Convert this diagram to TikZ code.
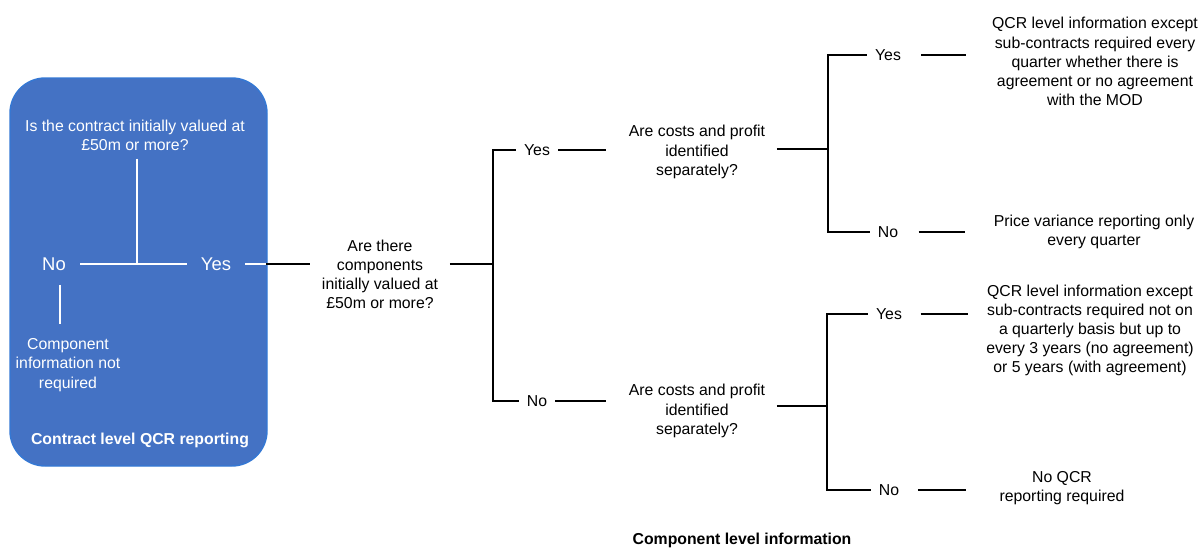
\documentclass[tikz,border=0pt]{standalone}
\usepackage{fontspec}
\setmainfont{Liberation Sans}
\usetikzlibrary{positioning}
\definecolor{qcrblue}{RGB}{68,114,196}
\definecolor{qcredge}{RGB}{52,120,212}

\begin{document}
\begin{tikzpicture}[x=0.02cm, y=-0.02cm,
  every node/.style={font=\fontsize{9}{10.9}\selectfont, align=center},
  ask/.style={inner xsep=6.5pt, inner ysep=0pt},
  ans/.style={inner xsep=4.5pt, inner ysep=0pt},
  res/.style={inner sep=0pt},
  wtext/.style={text=white, inner sep=0pt},
  wans/.style={text=white, font=\fontsize{10.5}{12}\selectfont, inner sep=8pt},
  link/.style={line width=1.1pt},
  wlink/.style={link, white}]
  \useasboundingbox (0,0) rectangle (1201,548);
  % contract level panel
  \draw[fill=qcrblue, draw=qcredge, line width=0.8pt, rounded corners=20pt] (10,78) rectangle (267,466);
  \node[wtext, inner ysep=4.5pt] (q1) at (135,135) {Is the contract initially valued at\\£50m or more?};
  \node[wans] (no1) at (54,264) {No};
  \node[wans] (yes1) at (216,264) {Yes};
  \node[wtext] (comp) at (68,365) {Component\\information not\\required};
  \node[wtext, font=\fontsize{9}{10.9}\selectfont\bfseries] (ctitle) at (140,440) {Contract level QCR reporting};
  \coordinate (j1) at (137,264);
  \coordinate (edge) at (266,264);
  \draw[wlink] (no1) -- (yes1);
  \draw[wlink] (q1.south -| j1) -- (j1);
  \draw[wlink, shorten >=8pt] ([xshift=3.4pt]no1.south) -- ([xshift=3.4pt]no1.south |- comp.north);
  \draw[wlink] (yes1) -- (edge);
  % component level
  \node[ask] (q2) at (380,274.5) {Are there\\components\\initially valued at\\£50m or more?};
  \draw[link] (edge) -- (edge -| q2.west);
  \coordinate (j2) at (493,264);
  \draw[link] (q2.east |- edge) -- (j2);
  \node[ans] (yes2) at (537,150) {Yes};
  \node[ans] (no2) at (537,401) {No};
  \draw[link] (yes2) -| (j2) |- (no2);
  % upper branch
  \node[ask] (q3) at (697,152) {Are costs and profit\\identified\\separately?};
  \draw[link, shorten >=6.5pt] (yes2) -- (yes2 -| q3.west);
  \coordinate (j3) at (828,149);
  \draw[link] (q3.east |- j3) -- (j3);
  \node[ans] (yes3) at (888,55) {Yes};
  \node[ans] (no3) at (888,232) {No};
  \draw[link] (yes3) -| (j3) |- (no3);
  \node[res] (out1) at (1095,61.5) {QCR level information except\\sub-contracts required every\\quarter whether there is\\agreement or no agreement\\with the MOD};
  \node[res] (out2) at (1094,231.5) {Price variance reporting only\\every quarter};
  \draw[link, shorten <=7pt, shorten >=14.5pt] (yes3) -- (yes3 -| out1.west);
  \draw[link, shorten <=7pt, shorten >=16pt] (no3) -- (no3 -| out2.west);
  % lower branch
  \node[ask] (q4) at (697,411) {Are costs and profit\\identified\\separately?};
  \draw[link, shorten >=6.5pt] (no2) -- (no2 -| q4.west);
  \coordinate (j4) at (827,406);
  \draw[link] (q4.east |- j4) -- (j4);
  \node[ans] (yes4) at (889,314) {Yes};
  \node[ans] (no4) at (889,490) {No};
  \draw[link] (yes4) -| (j4) |- (no4);
  \node[res] (out3) at (1090,330.5) {QCR level information except\\sub-contracts required not on\\a quarterly basis but up to\\every 3 years (no agreement)\\or 5 years (with agreement)};
  \node[res] (out4) at (1062,488) {No QCR\\reporting required};
  \draw[link, shorten <=6pt, shorten >=10.5pt] (yes4) -- (yes4 -| out3.west);
  \draw[link, shorten <=6pt, shorten >=19pt] (no4) -- (no4 -| out4.west);
  \node[font=\fontsize{9}{10.9}\selectfont\bfseries] (ltitle) at (742,540) {Component level information};
\end{tikzpicture}
\end{document}
